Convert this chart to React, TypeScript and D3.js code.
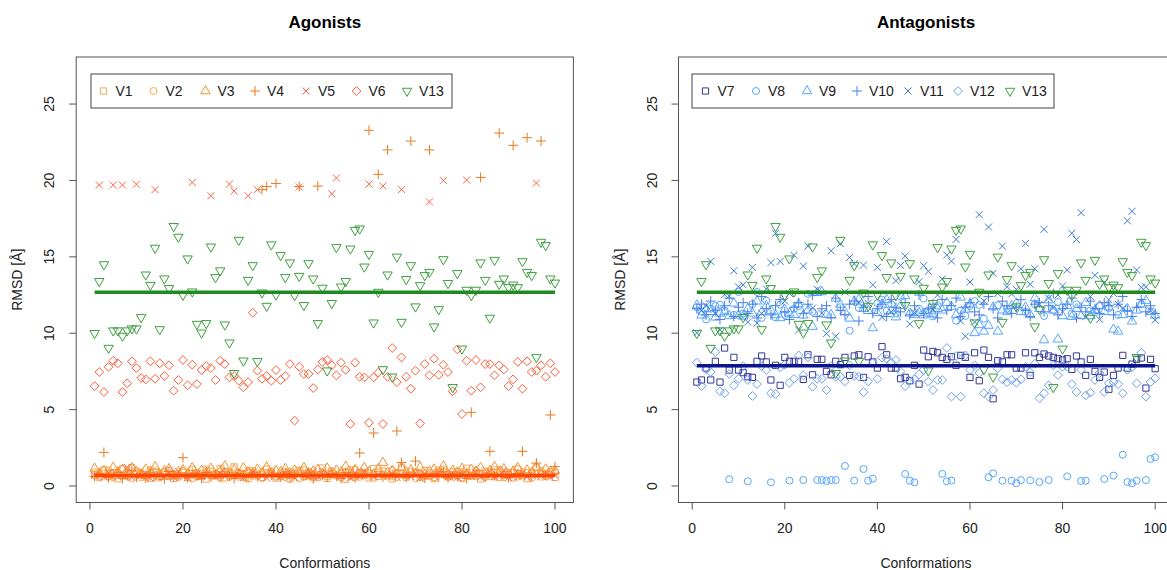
import React from 'react';
import * as d3 from 'd3';

// ---------------- DATA ----------------
const conformations = d3.range(1, 101);
const yTicks = [0, 5, 10, 15, 20, 25];
const xTicks = [0, 20, 40, 60, 80, 100];

// Agonists
const V1 = [
  0.72, 0.55, 1.05, 0.62, 0.88, 0.47, 1.12, 0.66, 1.2, 0.93,
  0.58, 0.74, 0.51, 0.97, 0.63, 0.85, 1.02, 0.49, 0.71, 0.9,
  0.56, 1.08, 0.64, 0.79, 0.45, 0.96, 0.68, 1.15, 0.53, 0.82,
  1.25, 0.6, 0.77, 0.48, 0.99, 0.7, 0.57, 1.1, 0.84, 0.52,
  0.65, 0.92, 0.46, 0.78, 1.04, 0.61, 0.87, 0.54, 0.73, 1.18,
  0.5, 0.95, 0.67, 0.81, 0.44, 1.06, 0.59, 0.89, 0.75, 0.52,
  1.13, 0.63, 0.98, 0.7, 0.47, 0.86, 1.23, 0.58, 0.76, 0.91,
  0.55, 1.01, 0.64, 0.49, 0.83, 1.09, 0.6, 0.72, 0.94, 0.51,
  1.16, 0.66, 0.8, 0.46, 0.97, 0.62, 1.05, 0.57, 0.74, 0.88,
  0.53, 1.11, 0.69, 0.48, 0.85, 1.2, 0.6, 0.78, 0.92, 0.56,
];
const V2 = [
  0.9, 0.64, 0.78, 1.02, 0.57, 0.83, 0.69, 0.95, 0.52, 0.74,
  0.88, 0.61, 1.05, 0.7, 0.55, 0.92, 0.66, 0.8, 0.58, 0.99,
  0.73, 0.5, 0.86, 0.63, 1.08, 0.68, 0.77, 0.54, 0.94, 0.6,
  0.71, 0.89, 0.56, 1.0, 0.65, 0.82, 0.53, 0.76, 0.97, 0.62,
  0.84, 0.59, 0.93, 0.7, 0.51, 1.04, 0.67, 0.79, 0.57, 0.87,
  0.63, 0.98, 0.72, 0.55, 0.9, 0.66, 1.06, 0.6, 0.81, 0.69,
  0.54, 0.91, 0.75, 0.62, 1.01, 0.58, 0.85, 0.7, 0.96, 0.52,
  0.8, 0.65, 0.88, 0.57, 1.03, 0.73, 0.61, 0.92, 0.68, 0.55,
  0.86, 0.64, 0.99, 0.71, 0.59, 0.83, 0.67, 1.07, 0.56, 0.78,
  0.94, 0.62, 0.74, 0.87, 0.53, 0.8, 1.0, 0.66, 0.72, 0.89,
];
const V3 = [
  1.15, 0.82, 1.0, 0.7, 1.22, 0.9, 1.08, 0.76, 1.18, 0.95,
  0.72, 1.1, 0.85, 1.25, 0.78, 0.98, 1.12, 0.68, 0.92, 1.05,
  0.8, 1.2, 0.74, 1.02, 0.88, 1.15, 0.7, 0.96, 1.3, 0.84,
  1.06, 0.77, 1.18, 0.9, 0.73, 1.1, 0.86, 1.24, 0.79, 1.0,
  0.93, 1.14, 0.71, 1.03, 0.87, 1.2, 0.75, 0.97, 1.09, 0.82,
  1.16, 0.74, 1.02, 0.9, 1.28, 0.8, 1.06, 0.7, 1.2, 0.94,
  0.78, 1.12, 1.53, 0.88, 1.0, 0.73, 1.18, 0.92, 1.05, 0.81,
  1.22, 0.76, 0.98, 1.1, 0.84, 1.3, 0.72, 1.02, 0.9, 1.15,
  0.79, 1.08, 0.95, 1.2, 0.74, 1.0, 1.26, 0.86, 1.12, 0.7,
  0.97, 1.18, 0.82, 1.04, 0.9, 1.22, 0.77, 1.1, 0.94, 1.0,
];
const V4 = [
  0.62, 0.81, 2.2, 0.55, 0.74, 0.9, 0.48, 0.67, 1.0, 0.58,
  0.77, 0.52, 0.85, 0.63, 0.7, 0.46, 0.95, 0.6, 0.73, 1.85,
  0.54, 0.83, 0.66, 0.49, 0.88, 0.61, 0.75, 0.57, 0.92, 0.64,
  0.5, 0.79, 0.68, 0.56, 0.86, 0.62, 19.4, 19.6, 0.71, 19.8,
  0.59, 0.84, 0.53, 0.76, 19.6, 0.65, 0.9, 0.47, 19.63, 0.72,
  0.58, 0.81, 0.63, 0.5, 0.87, 0.69, 0.55, 2.16, 0.78, 23.28,
  3.47, 20.4, 0.6, 22.0, 0.74, 3.6, 1.53, 0.57, 22.58, 1.63,
  0.66, 0.52, 22.0, 0.8, 0.61, 0.93, 0.54, 0.7, 0.64, 0.85,
  0.49, 4.82, 0.73, 20.2, 0.58, 2.27, 0.67, 23.1, 0.76, 0.55,
  22.3, 0.82, 2.27, 22.8, 0.6, 1.5, 22.58, 0.71, 4.65, 1.27,
];
const V5 = [
  0.7, 19.7, 0.58, 0.85, 19.7, 0.63, 19.7, 1.22, 0.55, 19.75,
  0.68, 0.8, 0.5, 19.4, 0.74, 0.61, 0.88, 0.57, 0.96, 0.66,
  0.53, 19.87, 0.78, 0.62, 0.71, 19.0, 0.59, 0.84, 0.67, 19.76,
  19.3, 0.73, 0.56, 19.0, 0.9, 19.4, 0.64, 0.52, 0.81, 0.69,
  0.6, 0.77, 0.86, 0.55, 19.57, 0.72, 0.63, 0.94, 0.58, 0.75,
  0.82, 19.13, 20.16, 0.61, 0.7, 0.54, 0.88, 0.66, 0.98, 19.76,
  0.59, 0.73, 19.63, 0.65, 0.8, 0.57, 19.4, 0.69, 0.62, 0.85,
  0.52, 0.76, 18.6, 0.68, 0.9, 20.0, 0.6, 0.79, 0.56, 0.71,
  20.03, 0.64, 0.87, 0.58, 0.74, 0.95, 0.61, 0.69, 1.02, 0.55,
  0.77, 0.63, 0.84, 0.6, 0.72, 19.83, 0.66, 0.81, 0.57, 0.7,
];
const V6 = [
  6.54, 7.46, 6.15, 7.8, 8.2, 8.03, 6.15, 6.72, 8.16, 7.72,
  7.07, 6.98, 8.16, 7.02, 8.03, 7.2, 7.9, 6.24, 6.94, 8.25,
  6.59, 7.94, 6.67, 7.59, 7.85, 7.72, 6.94, 8.2, 7.98, 7.11,
  7.2, 6.89, 6.46, 6.8, 11.34, 7.55, 7.02, 7.2, 6.89, 7.59,
  6.94, 7.2, 7.98, 4.28, 7.8, 7.33, 7.33, 6.41, 7.63, 8.12,
  8.25, 7.9, 7.24, 8.07, 7.6, 4.06, 8.07, 7.15, 7.11, 4.14,
  7.11, 7.42, 4.06, 7.15, 9.03, 6.8, 8.42, 7.15, 6.37, 7.55,
  4.1, 7.98, 7.24, 8.33, 7.28, 7.94, 7.46, 6.2, 8.94, 4.71,
  8.2, 6.24, 8.25, 6.46, 7.98, 7.98, 7.24, 7.9, 7.63, 6.54,
  6.98, 8.12, 6.37, 8.16, 7.46, 7.55, 7.9, 7.15, 8.03, 7.46,
];
// shared by both panels
const V13 = [
  10.0, 13.4, 14.5, 9.03, 10.17, 10.17, 9.82, 10.17, 10.3, 10.3,
  11.04, 13.83, 13.15, 15.58, 10.25, 13.57, 12.94, 17.0, 16.3, 12.5,
  14.88, 12.72, 10.6, 10.03, 10.65, 15.66, 13.66, 14.1, 10.56, 9.38,
  7.38, 16.1, 8.2, 13.48, 14.44, 8.16, 12.65, 11.78, 15.8, 12.52,
  15.1, 13.66, 14.62, 12.48, 13.74, 11.83, 14.57, 13.57, 10.65, 12.96,
  7.55, 11.96, 15.62, 13.04, 13.4, 15.53, 16.75, 16.84, 14.35, 15.18,
  10.69, 12.7, 7.63, 13.83, 7.15, 15.0, 10.73, 13.53, 14.44, 11.74,
  13.13, 13.79, 14.0, 10.43, 11.56, 14.83, 13.27, 6.46, 13.92, 8.98,
  12.83, 12.48, 12.83, 14.62, 13.48, 11.0, 14.79, 13.22, 13.57, 13.0,
  13.17, 13.0, 14.7, 14.0, 13.79, 8.42, 15.97, 15.75, 13.57, 13.3,
];

// Antagonists
const V7 = [
  6.8, 6.94, 7.72, 6.94, 8.16, 6.8, 9.03, 7.59, 8.42, 7.59,
  7.42, 7.15, 7.11, 8.16, 8.51, 8.12, 6.94, 7.9, 6.59, 8.42,
  8.16, 8.16, 8.16, 6.98, 8.59, 7.28, 8.29, 8.29, 7.5, 7.28,
  8.16, 7.94, 8.42, 7.24, 8.51, 8.59, 7.11, 8.46, 8.12, 7.72,
  9.12, 8.59, 7.72, 7.72, 7.02, 7.11, 6.89, 7.9, 6.67, 8.9,
  8.46, 8.81, 8.72, 8.42, 8.29, 8.46, 7.9, 8.55, 8.42, 7.11,
  8.72, 6.89, 8.9, 8.42, 5.71, 8.2, 8.12, 8.59, 8.59, 7.72,
  7.72, 8.72, 7.24, 8.72, 8.42, 8.64, 8.51, 8.42, 8.33, 8.25,
  8.33, 7.63, 8.51, 8.12, 7.24, 8.29, 7.5, 7.11, 7.46, 6.33,
  7.24, 7.72, 8.55, 7.72, 7.98, 8.29, 8.38, 6.41, 8.29, 7.68,
];
const V8 = [
  11.7, 11.4, 10.9, 11.6, 11.78, 11.87, 11.5, 0.44, 11.2, 12.7,
  11.3, 0.31, 11.91, 12.7, 11.0, 12.13, 0.24, 11.04, 11.87, 11.2,
  0.35, 11.6, 11.78, 0.39, 12.57, 11.4, 0.39, 0.39, 0.33, 0.39,
  0.39, 11.7, 1.31, 10.17, 0.35, 11.65, 1.11, 0.35, 0.48, 11.96,
  12.2, 11.47, 11.9, 11.3, 12.4, 0.79, 0.35, 0.24, 11.6, 12.26,
  11.5, 11.1, 11.8, 0.79, 0.31, 0.35, 10.82, 11.5, 11.13, 11.78,
  12.1, 11.85, 10.95, 0.57, 0.83, 11.83, 0.35, 11.6, 0.35, 0.18,
  0.39, 11.4, 0.37, 11.9, 0.26, 11.13, 0.39, 11.5, 12.04, 11.7,
  0.63, 11.3, 11.9, 0.33, 0.35, 11.5, 11.39, 11.8, 0.46, 11.65,
  0.68, 11.2, 2.05, 0.26, 0.18, 0.35, 11.9, 0.39, 1.77, 1.88,
];
const V9 = [
  11.83, 11.17, 11.6, 11.4, 11.04, 11.3, 11.39, 11.13, 11.96, 11.17,
  11.1, 11.6, 11.3, 12.09, 11.39, 11.8, 11.48, 11.2, 11.0, 11.56,
  11.3, 11.21, 11.9, 11.17, 11.5, 10.43, 12.65, 12.7, 11.2, 11.21,
  12.28, 11.88, 11.4, 10.97, 12.1, 12.22, 11.6, 11.47, 10.34, 11.33,
  11.9, 12.2, 11.47, 11.05, 11.8, 12.44, 11.3, 11.2, 11.34, 11.18,
  11.3, 11.25, 11.6, 11.5, 12.0, 11.74, 11.2, 12.35, 11.56, 11.9,
  10.02, 10.54, 10.12, 10.5, 11.7, 10.12, 11.5, 11.39, 11.8, 11.96,
  11.4, 11.7, 11.2, 12.3, 11.6, 9.55, 12.17, 11.5, 9.6, 11.13,
  11.8, 11.08, 11.6, 11.13, 12.0, 11.13, 11.5, 11.8, 11.4, 11.7,
  10.25, 10.12, 11.2, 11.6, 10.78, 11.5, 11.9, 12.13, 11.4, 11.17,
];
const V10 = [
  11.6, 11.9, 11.2, 12.1, 11.5, 10.9, 11.8, 12.3, 11.1, 11.7,
  12.0, 11.3, 11.9, 11.0, 12.4, 11.6, 11.2, 11.8, 12.2, 11.4,
  10.9, 11.7, 12.0, 11.3, 11.9, 12.5, 11.1, 11.6, 11.8, 11.0,
  12.3, 11.5, 11.2, 11.9, 12.1, 10.8, 11.7, 12.4, 11.3, 11.6,
  11.9, 11.1, 12.2, 11.7, 11.4, 12.0, 11.2, 11.8, 12.5, 11.3,
  11.6, 11.9, 11.0, 12.2, 11.5, 11.8, 12.3, 11.1, 11.7, 12.0,
  11.4, 11.2, 11.9, 12.4, 11.6, 11.0, 12.1, 11.8, 11.3, 11.7,
  12.2, 11.5, 11.1, 11.9, 12.0, 11.4, 11.8, 12.6, 11.2, 11.6,
  11.9, 12.3, 11.0, 11.7, 11.4, 12.1, 11.6, 11.3, 12.0, 11.8,
  11.2, 11.9, 12.4, 11.5, 11.1, 11.7, 12.2, 11.4, 11.8, 11.3,
];
const V11 = [
  10.03, 11.5, 11.8, 14.7, 11.3, 10.2, 12.52, 12.43, 14.09, 13.04,
  13.17, 10.73, 14.31, 10.65, 11.3, 12.9, 14.62, 16.54, 14.7, 12.1,
  12.6, 15.1, 10.21, 14.4, 15.7, 11.65, 12.87, 11.3, 9.97, 15.4,
  9.8, 15.86, 12.7, 14.96, 14.55, 12.02, 14.46, 11.96, 13.17, 14.31,
  11.04, 16.0, 11.4, 13.44, 14.44, 15.05, 10.6, 11.34, 13.37, 14.42,
  14.05, 11.56, 12.5, 13.55, 15.12, 14.72, 16.14, 10.8, 9.8, 13.35,
  10.73, 17.76, 12.1, 16.95, 13.92, 12.6, 15.7, 13.04, 12.57, 12.87,
  14.22, 15.88, 13.2, 14.22, 11.9, 16.8, 12.3, 11.65, 12.5, 13.09,
  14.14, 16.54, 16.14, 17.89, 11.08, 12.4, 13.79, 10.91, 13.31, 12.2,
  12.6, 11.9, 11.65, 17.36, 17.98, 14.14, 13.0, 13.04, 11.47, 10.86,
];
const V12 = [
  8.07, 6.54, 7.63, 7.46, 8.77, 6.2, 6.07, 7.33, 6.59, 7.02,
  7.85, 6.94, 5.89, 6.67, 7.85, 7.59, 6.07, 6.02, 7.77, 7.94,
  6.76, 7.02, 8.55, 7.24, 8.42, 6.5, 7.02, 7.02, 6.28, 7.85,
  7.15, 7.15, 6.85, 7.9, 7.2, 7.15, 6.15, 6.85, 8.07, 7.02,
  8.4, 8.33, 8.09, 8.25, 7.5, 6.54, 6.89, 6.98, 7.3, 7.6,
  6.83, 6.28, 6.94, 6.94, 9.03, 5.85, 8.51, 5.85, 8.55, 7.6,
  7.9, 7.4, 6.07, 5.85, 6.28, 7.7, 6.98, 6.8, 6.94, 6.76,
  6.98, 7.8, 7.46, 8.0, 5.74, 6.07, 6.59, 7.9, 7.26, 7.8,
  7.81, 6.67, 6.15, 7.6, 5.93, 6.11, 6.94, 7.4, 6.15, 6.72,
  6.8, 6.67, 6.07, 7.6, 7.77, 6.72, 8.72, 5.85, 6.8, 7.05,
];

// reference (mean) lines
const agonistLowMean = 0.68;
const v13Mean = 12.68;
const v7Mean = 7.87;

// ---------------- STYLE ----------------
const FONT = '"Liberation Sans", Arial, Helvetica, sans-serif';
const W = 1167;
const H = 570;

type Shape = 'square' | 'circle' | 'triUp' | 'plus' | 'cross' | 'diamond' | 'triDown';
interface Series { name: string; values: number[]; shape: Shape; color: string; }
interface RefLine { value: number; color: string; }

const leftSeries: Series[] = [
  { name: 'V1', values: V1, shape: 'square', color: '#F5A65B' },
  { name: 'V2', values: V2, shape: 'circle', color: '#FFA346' },
  { name: 'V3', values: V3, shape: 'triUp', color: '#F7922E' },
  { name: 'V4', values: V4, shape: 'plus', color: '#E77A22' },
  { name: 'V5', values: V5, shape: 'cross', color: '#FF6243' },
  { name: 'V6', values: V6, shape: 'diamond', color: '#FF5A36' },
  { name: 'V13', values: V13, shape: 'triDown', color: '#3E9E3E' },
];
const rightSeries: Series[] = [
  { name: 'V7', values: V7, shape: 'square', color: '#35379A' },
  { name: 'V8', values: V8, shape: 'circle', color: '#55A6FF' },
  { name: 'V9', values: V9, shape: 'triUp', color: '#55A6FF' },
  { name: 'V10', values: V10, shape: 'plus', color: '#4A7EE2' },
  { name: 'V11', values: V11, shape: 'cross', color: '#3C7AD6' },
  { name: 'V12', values: V12, shape: 'diamond', color: '#6B9FF0' },
  { name: 'V13', values: V13, shape: 'triDown', color: '#3E9E3E' },
];
const leftLines: RefLine[] = [
  { value: agonistLowMean, color: '#FF4500' },
  { value: v13Mean, color: '#1F8B1F' },
];
const rightLines: RefLine[] = [
  { value: v7Mean, color: '#0B148C' },
  { value: v13Mean, color: '#1F8B1F' },
];

const XC = 3.5; // R symbol radius
function symbolPath(shape: Shape, cx: number, cy: number): string {
  switch (shape) {
    case 'square': {
      const h = XC * 0.886;
      return `M${cx - h},${cy - h}h${2 * h}v${2 * h}h${-2 * h}Z`;
    }
    case 'circle': {
      const r = XC;
      return `M${cx - r},${cy}a${r},${r} 0 1,0 ${2 * r},0a${r},${r} 0 1,0 ${-2 * r},0Z`;
    }
    case 'triUp': {
      const r = 1.5551 * XC, hw = 1.3468 * XC, yc = 0.7776 * XC;
      return `M${cx},${cy - r}L${cx + hw},${cy + yc}L${cx - hw},${cy + yc}Z`;
    }
    case 'triDown': {
      const r = 1.5551 * XC, hw = 1.3468 * XC, yc = 0.7776 * XC;
      return `M${cx},${cy + r}L${cx + hw},${cy - yc}L${cx - hw},${cy - yc}Z`;
    }
    case 'plus': {
      const a = Math.SQRT2 * XC;
      return `M${cx - a},${cy}H${cx + a}M${cx},${cy - a}V${cy + a}`;
    }
    case 'cross': {
      const a = XC;
      return `M${cx - a},${cy - a}L${cx + a},${cy + a}M${cx - a},${cy + a}L${cx + a},${cy - a}`;
    }
    case 'diamond': {
      const a = 1.2533 * XC;
      return `M${cx},${cy - a}L${cx + a},${cy}L${cx},${cy + a}L${cx - a},${cy}Z`;
    }
  }
  return '';
}

interface PanelProps {
  title: string;
  series: Series[];
  lines: RefLine[];
  left: number;
  right: number;
  legendX: number;
  legendW: number;
  legendSymX: number[];
}

function Panel({ title, series, lines, left, right, legendX, legendW, legendSymX }: PanelProps) {
  const ext = 0.04 * (100 - 1);
  const x = d3.scaleLinear().domain([1 - ext, 100 + ext]).range([left, right]);
  const yext = 0.04 * 27;
  const top = 57;
  const bottom = 502.5;
  const y = d3.scaleLinear().domain([0 - yext, 27 + yext]).range([bottom, top]);
  const lineGen = d3.line<number>().x((d) => x(d)).y(() => 0);
  const cxMid = (left + right) / 2;
  const legendY = 74;
  const legendH = 34;
  return (
    <g>
      <text x={cxMid} y={22} textAnchor="middle" dominantBaseline="central"
        fontFamily={FONT} fontWeight="bold" fontSize={17} fill="#000">{title}</text>
      {/* plot box */}
      <rect x={left} y={top} width={right - left} height={bottom - top} fill="none" stroke="#555" strokeWidth={1} />
      {/* y axis */}
      {yTicks.map((t) => (
        <g key={'y' + t}>
          <line x1={left} x2={left - 7} y1={y(t)} y2={y(t)} stroke="#555" />
          <text transform={`translate(${left - 27},${y(t)}) rotate(-90)`} textAnchor="middle"
            dominantBaseline="central" fontFamily={FONT} fontSize={14} fill="#222">{t}</text>
        </g>
      ))}
      <text transform={`translate(${left - 59},${(top + bottom) / 2}) rotate(-90)`} textAnchor="middle"
        dominantBaseline="central" fontFamily={FONT} fontSize={14} fill="#222">RMSD [Å]</text>
      {/* x axis */}
      {xTicks.map((t) => (
        <g key={'x' + t}>
          <line x1={x(t)} x2={x(t)} y1={bottom} y2={bottom + 7} stroke="#555" />
          <text x={x(t)} y={528} textAnchor="middle" dominantBaseline="central"
            fontFamily={FONT} fontSize={14} fill="#222">{t}</text>
        </g>
      ))}
      <text x={cxMid} y={563} textAnchor="middle" dominantBaseline="central"
        fontFamily={FONT} fontSize={14} fill="#222">Conformations</text>
      {/* points */}
      {series.map((s) => (
        <path key={s.name}
          d={s.values.map((v, i) => symbolPath(s.shape, x(conformations[i]), y(v))).join('')}
          fill="none" stroke={s.color} strokeWidth={1} />
      ))}
      {/* reference lines */}
      {lines.map((l, k) => (
        <path key={k} d={lineGen([conformations[0], conformations[conformations.length - 1]]) || ''}
          transform={`translate(0,${y(l.value)})`} stroke={l.color} strokeWidth={3.5} fill="none" />
      ))}
      {/* legend */}
      <rect x={legendX} y={legendY} width={legendW} height={legendH} fill="#fff" stroke="#444" strokeWidth={1} />
      {series.map((s, k) => (
        <g key={'lg' + s.name}>
          <path d={symbolPath(s.shape, legendSymX[k], legendY + legendH / 2)} fill="none" stroke={s.color} strokeWidth={1} />
          <text x={legendSymX[k] + 12} y={legendY + legendH / 2} dominantBaseline="central"
            fontFamily={FONT} fontSize={14} fill="#222">{s.name}</text>
        </g>
      ))}
    </g>
  );
}

export default function App() {
  return (
    <svg width={W} height={H} viewBox={`0 0 ${W} ${H}`}
      style={{ position: 'absolute', left: 0, top: 0, background: '#fff' }}>
      <rect x={0} y={0} width={W} height={H} fill="#fff" />
      <Panel title="Agonists" series={leftSeries} lines={leftLines} left={76.2} right={573.4}
        legendX={91} legendW={361} legendSymX={[103.5, 153.5, 205.5, 255, 306, 356.5, 407]} />
      <Panel title="Antagonists" series={rightSeries} lines={rightLines} left={678.5} right={1173.5}
        legendX={692} legendW={362} legendSymX={[705.5, 756, 807, 857, 908, 958, 1010]} />
    </svg>
  );
}
